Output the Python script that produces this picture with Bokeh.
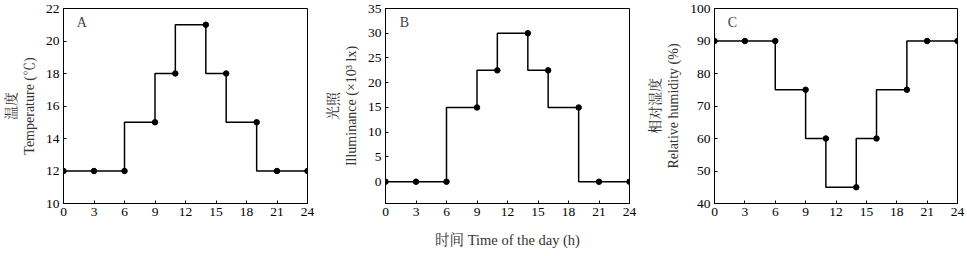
from bokeh.plotting import figure
from bokeh.layouts import row
from bokeh.models import FixedTicker, Range1d, Label
from bokeh.embed import file_html
from bokeh.resources import INLINE

hours = [0, 3, 6, 9, 11, 14, 16, 19, 21, 24]
temperature = [12, 12, 12, 15, 18, 21, 18, 15, 12, 12]
illuminance = [0, 0, 0, 15, 22.5, 30, 22.5, 15, 0, 0]
humidity = [90, 90, 90, 75, 60, 45, 60, 75, 90, 90]
x_ticks = [0, 3, 6, 9, 12, 15, 18, 21, 24]

FONT = "'Liberation Serif', 'Times New Roman', 'Noto Serif CJK SC', 'Noto Sans CJK SC', serif"


def panel(width, left, right, y, yr, yticks, ylabel, letter, letter_xy, xlabel=""):
    p = figure(width=width, height=256, output_backend="svg", toolbar_location=None,
               x_range=Range1d(0, 24), y_range=Range1d(*yr),
               min_border_left=left, min_border_right=right,
               min_border_top=8, min_border_bottom=53)
    p.grid.visible = False
    p.outline_line_color = "black"
    p.outline_line_width = 1
    p.background_fill_color = "white"
    p.border_fill_color = "white"
    for ax in (p.xaxis[0], p.yaxis[0]):
        ax.axis_line_color = "black"
        ax.major_tick_in = 3
        ax.major_tick_out = 0
        ax.minor_tick_line_color = None
        ax.major_label_text_font = FONT
        ax.major_label_text_font_size = "13.5px"
        ax.major_label_text_color = "black"
        ax.axis_label_text_font = FONT
        ax.axis_label_text_font_size = "14px"
        ax.axis_label_text_font_style = "normal"
        ax.axis_label_text_color = "#333333"
        ax.major_label_standoff = 4
    p.xaxis.ticker = FixedTicker(ticks=x_ticks)
    p.yaxis.ticker = FixedTicker(ticks=yticks)
    p.yaxis.axis_label = ylabel
    p.yaxis.axis_label_standoff = 6
    if xlabel:
        p.xaxis.axis_label = xlabel
        p.xaxis.axis_label_standoff = 13
        p.xaxis.axis_label_text_font_size = "14.5px"
    p.step(hours, y, mode="before", line_color="black", line_width=1.5)
    p.scatter(hours, y, size=5.5, color="black")
    p.add_layout(Label(x=letter_xy[0], y=letter_xy[1], text=letter, text_font=FONT,
                       text_font_size="14px", text_baseline="middle", text_align="left"))
    return p


pa = panel(320, 63, 13, temperature, (10, 22), [10, 12, 14, 16, 18, 20, 22],
           "温度\nTemperature (℃)", "A", (1.3, 21.15))
pb = panel(322, 65, 13, illuminance, (-4.4, 35), [0, 5, 10, 15, 20, 25, 30, 35],
           "光照\nIlluminance (×10³ lx)", "B", (1.4, 32.2), xlabel="时间 Time of the day (h)")
pc = panel(325, 72, 10, humidity, (40, 100), [40, 50, 60, 70, 80, 90, 100],
           "相对湿度\nRelative humidity (%)", "C", (1.3, 95.8))

layout = row(pa, pb, pc, spacing=0)
open("out.html", "w").write(file_html(layout, INLINE))
